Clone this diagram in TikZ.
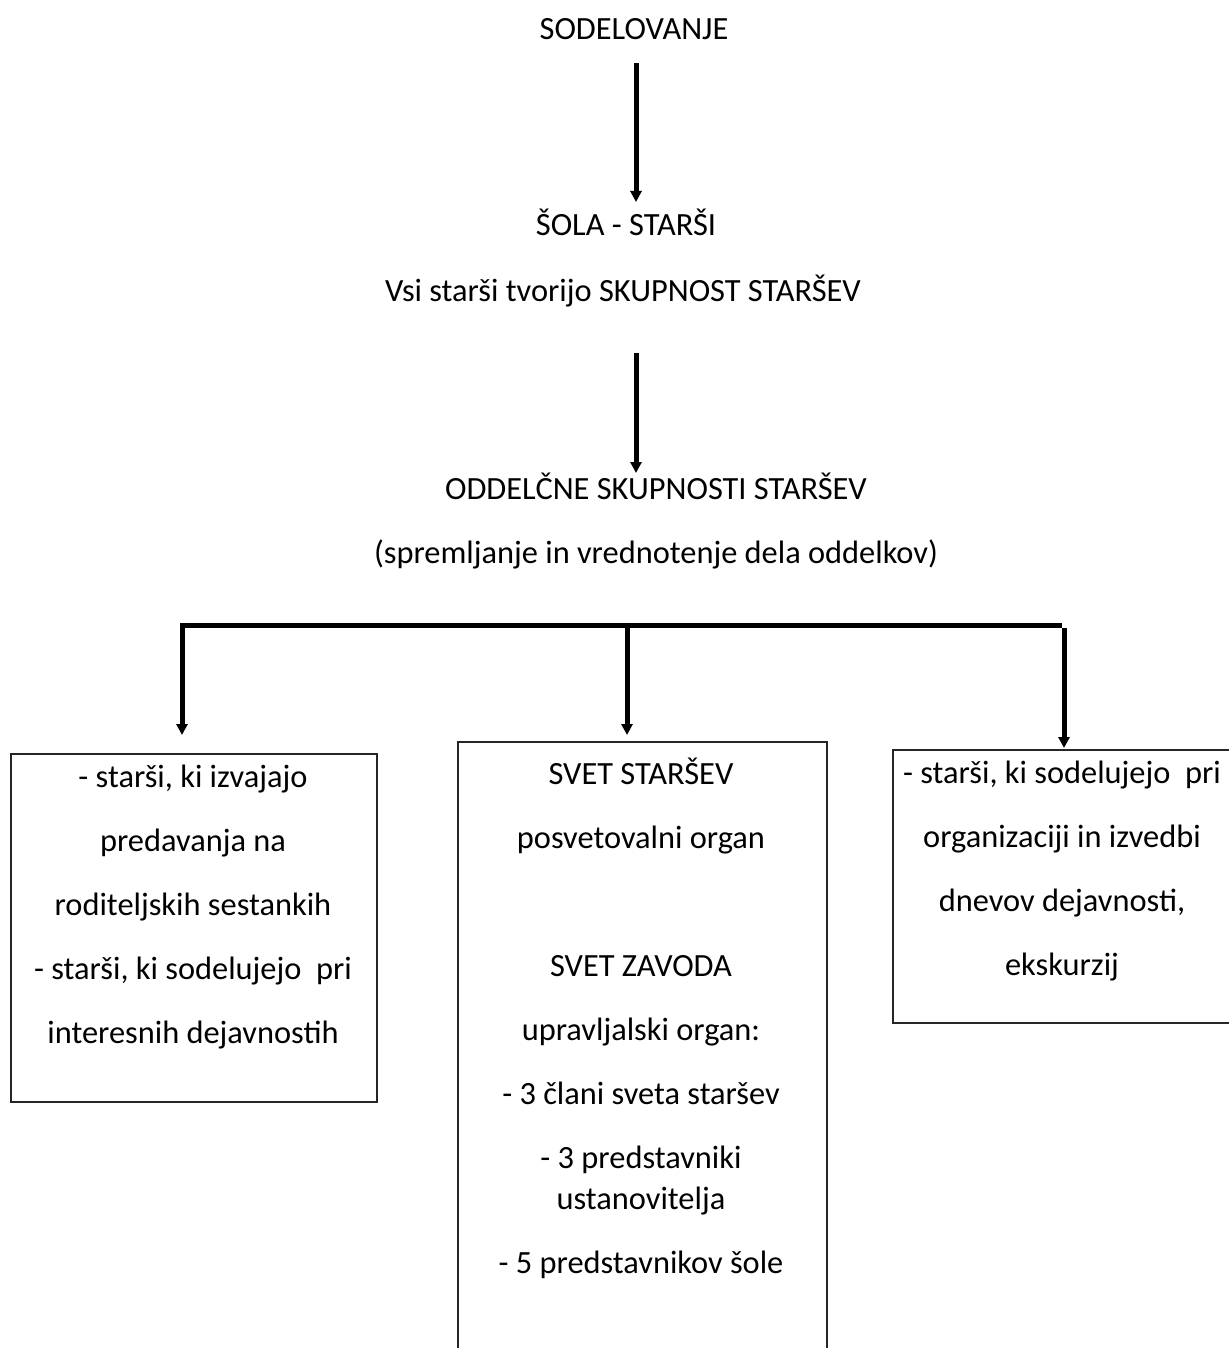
\documentclass[tikz,border=0pt]{standalone}
\usepackage{fontspec}
\setmainfont{Carlito}
\usetikzlibrary{positioning,arrows.meta}

\begin{document}
\begin{tikzpicture}[x=0.5pt,y=-0.5pt,
  every node/.style={font=\fontsize{16.2}{32}\selectfont,inner sep=0pt},
  box/.style={draw=black!85,line width=0.75pt,anchor=north west},
  lines/.style={align=center,anchor=north},
  arr/.style={line width=2.5pt,-{Triangle[width=5.5pt,length=5.5pt]}}]
\useasboundingbox (0,0) rectangle (1228,1348);
% top part
\node (sod) [anchor=base] at (634,40) {SODELOVANJE} ;
\node (sola) [anchor=base] at (626,235) {ŠOLA - STARŠI} ;
\node (vsi) [anchor=base] at (623,301) {Vsi starši tvorijo SKUPNOST STARŠEV} ;
\node (odd) [anchor=base] at (656,499) {ODDELČNE SKUPNOSTI STARŠEV} ;
\node (spr) [anchor=base] at (656,563) {(spremljanje in vrednotenje dela oddelkov)} ;
% boxes
\node (lbox) [box,minimum width=183pt,minimum height=174pt] at (10,753) {} ;
\node (mbox) [box,minimum width=184.5pt,minimum height=320pt] at (457,741) {} ;
\node (rbox) [box,minimum width=172pt,minimum height=136.5pt] at (892,749) {} ;
\node (ltxt) [lines] at (193,765) {- starši, ki izvajajo\\ predavanja na\\ roditeljskih sestankih\\
  - starši, ki sodelujejo\ \ pri\\ interesnih dejavnostih} ;
\node (mtxt) [lines] at (641,758) {SVET STARŠEV\\ posvetovalni organ\\[32pt] SVET ZAVODA\\
  upravljalski organ:\\ - 3 člani sveta staršev\\ - 3 predstavniki\\[-11.5pt] ustanovitelja\\
  - 5 predstavnikov šole} ;
\node (rtxt) [lines] at (1062,761) {- starši, ki sodelujejo\ \ pri\\ organizaciji in izvedbi\\
  dnevov dejavnosti,\\ ekskurzij} ;
% connectors
\coordinate (a1) at (636,63) ;
\coordinate (a1e) at (636,202) ;
\coordinate (a2) at (636,353) ;
\coordinate (a2e) at (636,473) ;
\coordinate (barl) at (182,625) ;
\coordinate (barm) at (627,625) ;
\coordinate (barr) at (1062,625) ;
\coordinate (rtop) at (1064,628) ;
\draw[arr] (a1) to (a1e) ;
\draw[arr] (a2) to (a2e) ;
\draw[arr,shorten >=9pt] (barr) -- (barl) -- (barl |- lbox.north) ;
\draw[arr,shorten >=3pt] (barm) to (barm |- mbox.north) ;
\draw[arr,shorten >=0.5pt] (rtop) to (rtop |- rbox.north) ;
\end{tikzpicture}
\end{document}
